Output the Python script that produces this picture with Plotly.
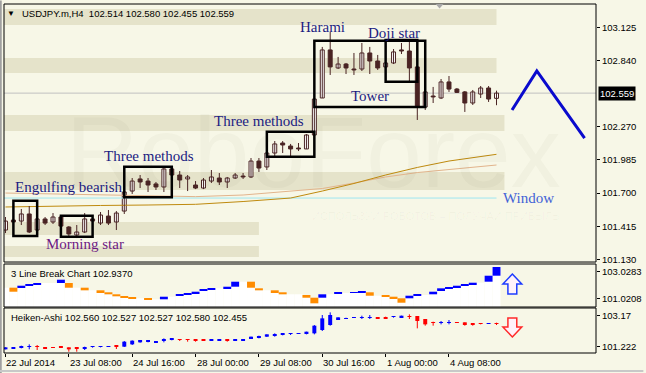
import plotly.graph_objects as go

# ---------------- data ----------------
dates_tick_idx = [0, 8, 16, 24, 32, 40, 48, 56]
dates_tick_txt = ["22 Jul 2014", "23 Jul 08:00", "24 Jul 16:00", "28 Jul 00:00",
                  "29 Jul 08:00", "30 Jul 16:00", "1 Aug 00:00", "4 Aug 08:00"]

c_open = [101.382, 101.468, 101.459, 101.520, 101.382, 101.477, 101.451, 101.494, 101.408, 101.339,
          101.365, 101.477, 101.442, 101.502, 101.451, 101.545, 101.717, 101.821, 101.803, 101.778,
          101.752, 101.907, 101.855, 101.821, 101.769, 101.743, 101.803, 101.829, 101.795, 101.829,
          101.846, 101.838, 101.975, 101.924, 102.044, 102.130, 102.104, 102.087, 102.079, 102.199,
          102.517, 102.930, 102.775, 102.809, 102.766, 102.766, 102.904, 102.835, 102.784, 102.818,
          102.930, 102.921, 102.784, 102.440, 102.534, 102.517, 102.655, 102.594, 102.569, 102.474,
          102.551, 102.603, 102.514]
c_high = [101.494, 101.485, 101.563, 101.588, 101.494, 101.494, 101.528, 101.502, 101.416, 101.425,
          101.528, 101.511, 101.537, 101.554, 101.545, 101.726, 101.829, 101.855, 101.829, 101.795,
          101.924, 101.915, 101.889, 101.855, 101.803, 101.829, 101.898, 101.872, 101.838, 101.872,
          101.872, 102.001, 102.001, 102.053, 102.147, 102.147, 102.122, 102.130, 102.207, 102.517,
          102.956, 103.085, 102.870, 102.818, 102.904, 102.990, 102.956, 102.887, 102.827, 102.938,
          102.990, 102.999, 102.792, 102.586, 102.612, 102.680, 102.706, 102.603, 102.577, 102.586,
          102.620, 102.620, 102.580]
c_low = [101.356, 101.434, 101.425, 101.356, 101.365, 101.425, 101.434, 101.408, 101.322, 101.313,
         101.356, 101.442, 101.425, 101.425, 101.382, 101.520, 101.692, 101.743, 101.709, 101.726,
         101.709, 101.846, 101.743, 101.717, 101.734, 101.734, 101.786, 101.769, 101.743, 101.821,
         101.821, 101.829, 101.881, 101.898, 102.010, 102.044, 102.018, 102.061, 102.079, 102.190,
         102.517, 102.715, 102.766, 102.723, 102.715, 102.749, 102.723, 102.758, 102.775, 102.809,
         102.895, 102.646, 102.328, 102.414, 102.474, 102.508, 102.569, 102.560, 102.397, 102.457,
         102.517, 102.483, 102.455]
c_close = [101.459, 101.451, 101.520, 101.365, 101.477, 101.442, 101.494, 101.416, 101.348, 101.365,
           101.477, 101.459, 101.511, 101.442, 101.528, 101.709, 101.803, 101.795, 101.769, 101.752,
           101.907, 101.855, 101.812, 101.838, 101.743, 101.812, 101.838, 101.795, 101.829, 101.855,
           101.838, 101.975, 101.915, 102.044, 102.122, 102.113, 102.079, 102.079, 102.199, 102.508,
           102.930, 102.784, 102.809, 102.775, 102.758, 102.904, 102.835, 102.775, 102.818, 102.913,
           102.921, 102.775, 102.440, 102.569, 102.526, 102.655, 102.594, 102.565, 102.474, 102.569,
           102.603, 102.508, 102.559]

ma_idx = [0, 6, 12, 18, 24, 30, 36, 40, 44, 48, 52, 56, 62]
ma_slow = [101.580, 101.588, 101.593, 101.597, 101.603, 101.627, 101.657, 101.717, 101.782,
           101.855, 101.920, 101.975, 102.033]
ma_fast = [101.700, 101.692, 101.683, 101.675, 101.669, 101.683, 101.717, 101.739, 101.786,
           101.838, 101.876, 101.902, 101.941]

window_level = 101.657
window_end_idx = 62
last_price = 102.559

forecast_idx = [63.96, 67.09, 73.12]
forecast_px = [102.414, 102.749, 102.171]

# support / resistance zones: (low, high, last index)
zone_low = [103.145, 102.732, 102.233, 101.726, 101.339, 101.150]
zone_high = [103.282, 102.861, 102.371, 101.881, 101.451, 101.245]
zone_end = [62, 62, 63, 63, 32, 32]

# pattern boxes
pat_names = ["Engulfing bearish", "Morning star", "Three methods", "Three methods", "Tower", "Doji star"]
pat_i0 = [1, 7, 15, 33, 39, 48]
pat_i1 = [4, 11, 21, 39, 53, 52]
pat_low = [101.330, 101.324, 101.663, 102.012, 102.440, 102.657]
pat_high = [101.634, 101.505, 101.926, 102.227, 103.010, 103.016]

lbl_text = ["Harami", "Doji star", "Tower", "Three methods", "Three methods",
            "Engulfing bearish", "Morning star", "Window"]
lbl_idx = [40, 49, 46, 32, 18.1, 8.06, 10.04, 66]
lbl_px = [103.128, 103.072, 102.534, 102.323, 102.018, 101.756, 101.259, 101.660]
lbl_col = ["#1C1C82", "#1C1C82", "#1C1C82", "#1C1C82", "#1C1C82", "#1C1C82", "#6E1A84", "#4262D6"]

# 3 Line Break
N = None
lb_open = [N, 101.821, 101.821, 101.971, 102.077, N, N, 102.175, 102.175, N,
           101.821, N, 101.624, 101.474, 101.323, 101.172, 101.066, N, 101.021, N,
           100.945, N, 101.217, 101.323, 101.398, 101.572, 101.670, N, 101.775, 101.896,
           N, 102.274, 101.775, N, 101.624, 101.474, N, N, 101.270, 101.066,
           101.066, N, 101.345, N, 101.421, 101.474, 101.474, N, 101.217, 101.141,
           101.021, 101.021, 101.217, N, 101.323, 101.572, 101.775, 101.851, 101.971, 102.077,
           N, 102.274, 102.726]
lb_close = [N, 101.519, 101.971, 102.077, 102.175, N, N, 102.424, 101.821, N,
            101.624, N, 101.474, 101.323, 101.172, 101.066, 101.021, N, 100.945, N,
            101.141, N, 101.323, 101.398, 101.519, 101.670, 101.775, N, 101.896, 102.274,
            N, 101.821, 101.624, N, 101.474, 101.323, N, N, 101.066, 100.643,
            101.323, N, 101.421, N, 101.474, 101.572, 101.217, N, 101.141, 101.021,
            100.689, 101.217, 101.270, N, 101.519, 101.775, 101.851, 101.971, 102.077, 102.198,
            N, 102.726, 103.383]

# Heiken-Ashi
ha_open = [101.056, 101.098, 101.140, 101.203, 101.244, 101.140, 101.182, 101.203, 101.182, 101.140,
           101.098, 101.203, 101.203, 101.224, 101.286, 101.224, 101.370, 101.496, 101.559, 101.496,
           101.622, 101.643, 101.684, 101.663, 101.663, 101.663, 101.622, 101.622, 101.663, 101.622,
           101.622, 101.747, 101.810, 101.852, 101.936, 101.957, 102.020, 102.041, 102.020, 102.062,
           102.271, 102.585, 102.900, 102.983, 103.046, 103.046, 103.067, 103.067, 103.067, 103.088,
           103.067, 103.130, 103.151, 102.962, 102.753, 102.711, 102.732, 102.753, 102.753, 102.669,
           102.669, 102.669, 102.690]
ha_close = [101.182, 101.182, 101.265, 101.224, 101.203, 101.119, 101.161, 101.161, 101.056, 101.098,
            101.140, 101.224, 101.244, 101.244, 101.244, 101.538, 101.601, 101.643, 101.601, 101.517,
            101.663, 101.747, 101.643, 101.643, 101.622, 101.622, 101.663, 101.643, 101.622, 101.643,
            101.643, 101.852, 101.852, 101.999, 101.957, 102.062, 102.041, 102.062, 102.166, 102.543,
            103.004, 103.214, 103.067, 103.004, 103.067, 103.067, 103.088, 103.025, 103.025, 103.109,
            103.172, 103.088, 102.837, 102.627, 102.711, 102.753, 102.753, 102.711, 102.585, 102.627,
            102.648, 102.690, 102.648]
ha_high = [101.182, 101.203, 101.286, 101.370, 101.328, 101.140, 101.182, 101.203, 101.182, 101.182,
           101.224, 101.265, 101.265, 101.265, 101.328, 101.580, 101.622, 101.643, 101.643, 101.538,
           101.747, 101.768, 101.705, 101.705, 101.705, 101.684, 101.663, 101.663, 101.705, 101.663,
           101.663, 101.852, 101.915, 101.999, 102.062, 102.062, 102.062, 102.083, 102.166, 102.585,
           103.214, 103.381, 103.067, 103.046, 103.067, 103.172, 103.214, 103.067, 103.109, 103.151,
           103.172, 103.256, 103.151, 102.962, 102.795, 102.837, 102.900, 102.753, 102.753, 102.690,
           102.669, 102.690, 102.732]
ha_low = [101.056, 101.077, 101.119, 101.056, 101.014, 101.098, 101.140, 101.140, 100.909, 100.909,
          101.014, 101.161, 101.182, 101.203, 101.077, 101.203, 101.328, 101.475, 101.496, 101.475,
          101.496, 101.622, 101.580, 101.538, 101.538, 101.601, 101.601, 101.601, 101.538, 101.622,
          101.601, 101.747, 101.747, 101.831, 101.852, 101.936, 101.957, 102.020, 101.999, 101.999,
          102.208, 102.543, 102.900, 102.962, 103.046, 102.962, 102.962, 103.025, 102.962, 103.046,
          103.067, 102.962, 102.376, 102.543, 102.543, 102.627, 102.627, 102.711, 102.543, 102.543,
          102.627, 102.669, 102.585]

main_ticks = [103.125, 102.840, 102.270, 101.985, 101.700, 101.415, 101.130]
lb_ticks = [103.0283, 101.0208]
ha_ticks = [103.17, 101.222]

# ---------------- style ----------------
BG = "#F7F7E7"
BAND = "#E5E3CA"
DARK = "#4A2424"
FONT = "Liberation Sans"
SERIF = "Liberation Serif"
XR = [-0.1875, 74.5625]
MAIN_R = [101.107, 103.325]
LB_R = [100.364, 103.609]
HA_R = [100.826, 103.654]

fig = go.Figure()


def add_candles(o, h, l, c, yax, w, up_fill, up_line, dn_fill, dn_line, wick_up, wick_dn, outline):
    for bull in (True, False):
        ids = [i for i in range(len(o)) if (c[i] >= o[i]) == bull]
        wx, wy = [], []
        for i in ids:
            wx += [i, i, None]
            wy += [l[i], h[i], None]
        fig.add_trace(go.Scatter(x=wx, y=wy, mode="lines", yaxis=yax,
                                 line=dict(color=wick_up if bull else wick_dn, width=1),
                                 hoverinfo="skip", showlegend=False))
    for bull in (True, False):
        ids = [i for i in range(len(o)) if (c[i] >= o[i]) == bull]
        fig.add_trace(go.Bar(x=ids, y=[abs(c[i] - o[i]) for i in ids],
                             base=[min(o[i], c[i]) for i in ids], width=w, yaxis=yax,
                             marker=dict(color=up_fill if bull else dn_fill,
                                         line=dict(color=up_line if bull else dn_line, width=outline)),
                             hoverinfo="skip", showlegend=False))


# moving averages and window line (main panel)
fig.add_trace(go.Scatter(x=[XR[0], window_end_idx], y=[window_level, window_level], mode="lines",
                         line=dict(color="#9EE6F0", width=1), yaxis="y", hoverinfo="skip", showlegend=False))
fig.add_trace(go.Scatter(x=ma_idx, y=ma_fast, mode="lines", line=dict(color="#E2B48C", width=1),
                         yaxis="y", hoverinfo="skip", showlegend=False))
fig.add_trace(go.Scatter(x=ma_idx, y=ma_slow, mode="lines", line=dict(color="#BF8A0E", width=1),
                         yaxis="y", hoverinfo="skip", showlegend=False))

add_candles(c_open, c_high, c_low, c_close, "y", 0.5, "#FFFFFF", DARK, DARK, DARK, DARK, DARK, 1)

fig.add_trace(go.Scatter(x=forecast_idx, y=forecast_px, mode="lines",
                         line=dict(color="#0A0ACD", width=3), yaxis="y", hoverinfo="skip", showlegend=False))

# 3 Line Break panel
levels = []
cur = next(v for v in lb_open if v is not None)
for i in range(len(lb_close)):
    if lb_close[i] is not None:
        cur = lb_close[i]
    levels.append(cur)
fig.add_trace(go.Bar(x=list(range(len(levels))), y=[v - LB_R[0] for v in levels], base=LB_R[0],
                     width=1.0, yaxis="y2", marker=dict(color="#FFFFFF", line=dict(width=0)),
                     hoverinfo="skip", showlegend=False))
for up in (True, False):
    ids = [i for i in range(len(lb_open)) if lb_open[i] is not None and (lb_close[i] > lb_open[i]) == up]
    fig.add_trace(go.Bar(x=ids, y=[abs(lb_close[i] - lb_open[i]) for i in ids],
                         base=[min(lb_open[i], lb_close[i]) for i in ids], width=1.0, yaxis="y2",
                         marker=dict(color="#0000FF" if up else "#FF8C00", line=dict(width=0)),
                         hoverinfo="skip", showlegend=False))

# Heiken-Ashi panel
add_candles(ha_open, ha_high, ha_low, ha_close, "y3", 0.5, "#0000FF", "#0000FF", "#FF0000", "#FF0000",
            "#0000FF", "#FF0000", 0)

# ---------------- shapes ----------------
shapes = []
for lo, hi, e in zip(zone_low, zone_high, zone_end):
    shapes.append(dict(type="rect", xref="x", yref="y", x0=XR[0], x1=e, y0=lo, y1=hi,
                       fillcolor=BAND, line=dict(width=0), layer="below"))
shapes.append(dict(type="line", xref="paper", yref="y", x0=0, x1=1, y0=last_price, y1=last_price,
                   line=dict(color="#C0C0C0", width=1), layer="below"))
for a, b, lo, hi in zip(pat_i0, pat_i1, pat_low, pat_high):
    shapes.append(dict(type="rect", xref="x", yref="y", x0=a, x1=b, y0=lo, y1=hi,
                       line=dict(color="#000000", width=2.5), fillcolor="rgba(0,0,0,0)"))
# panel borders
for y0, y1 in [(0.2607, 1.0), (0.1318, 0.2550), (0.0, 0.1289)]:
    shapes.append(dict(type="rect", xref="paper", yref="paper", x0=0, x1=1, y0=y0, y1=y1,
                       line=dict(color="#000000", width=1), fillcolor="rgba(0,0,0,0)"))
# arrows
shapes.append(dict(type="path", xref="x", yref="y2",
                   path="M 64.0 102.855 L 65.19 102.100 L 64.56 102.100 L 64.56 101.345 "
                        "L 63.44 101.345 L 63.44 102.100 L 62.81 102.100 Z",
                   fillcolor="#FFF2FA", line=dict(color="#1E3CFF", width=1.5)))
shapes.append(dict(type="path", xref="x", yref="y3",
                   path="M 64.0 101.831 L 65.19 102.460 L 64.56 102.460 L 64.56 103.025 "
                        "L 63.44 103.025 L 63.44 102.460 L 62.81 102.460 Z",
                   fillcolor="#FFF2FA", line=dict(color="#FF2A2A", width=1.5)))
# chart shift marker
shapes.append(dict(type="path", xref="x", yref="paper",
                   path="M 54.31 1.0 L 55.31 1.0 L 54.81 0.987 Z",
                   fillcolor="#A8A8A8", line=dict(width=0)))
# window frame
shapes.append(dict(type="line", xref="paper", yref="paper", x0=-0.0055, x1=-0.0055, y0=-0.06, y1=1.01,
                   line=dict(color="#A0A0A0", width=2)))
shapes.append(dict(type="line", xref="paper", yref="paper", x0=-0.01, x1=1.08, y0=-0.0515, y1=-0.0515,
                   line=dict(color="#C8C8C8", width=2)))

# ---------------- annotations ----------------
ann = []
ann.append(dict(text="RoboForex", xref="paper", yref="paper", x=0.522, y=0.575, showarrow=False,
                font=dict(family="Liberation Sans Narrow, Liberation Sans", size=100,
                          color="rgba(60,60,20,0.03)"),
                xanchor="center", yanchor="middle"))
ann.append(dict(text="ИСПОЛЬЗУЙ РОБОТОВ – ПОЛУЧАЙ ПРИБЫЛЬ", xref="paper", yref="paper", x=0.729,
                y=0.393, showarrow=False, xanchor="center", yanchor="middle",
                font=dict(family=FONT, size=11, color="rgba(60,60,20,0.035)")))
for t, xi, yp, col in zip(lbl_text, lbl_idx, lbl_px, lbl_col):
    ann.append(dict(text=t, x=xi, y=yp, xref="x", yref="y", showarrow=False, xanchor="center",
                    yanchor="middle", font=dict(family=SERIF, size=15, color=col)))
ann.append(dict(text="▼", xref="paper", yref="paper", x=0.0125, y=0.974, showarrow=False,
                xanchor="center", yanchor="middle", font=dict(family=FONT, size=8, color="#000000")))
ann.append(dict(text="USDJPY.m,H4  102.514 102.580 102.455 102.559", xref="paper", yref="paper",
                x=0.0268, y=0.974, showarrow=False, xanchor="left", yanchor="middle",
                font=dict(family=FONT, size=9.5, color="#000000")))
ann.append(dict(text="3 Line Break Chart 102.9370", xref="paper", yref="paper", x=0.0084, y=0.2284,
                showarrow=False, xanchor="left", yanchor="middle",
                font=dict(family=FONT, size=9.5, color="#000000")))
ann.append(dict(text="Heiken-Ashi 102.560 102.527 102.527 102.580 102.455", xref="paper", yref="paper",
                x=0.0084, y=0.1011, showarrow=False, xanchor="left", yanchor="middle",
                font=dict(family=FONT, size=9.5, color="#000000")))
ann.append(dict(text="%.3f" % last_price, xref="paper", yref="y", x=1.0, y=last_price, xanchor="left",
                xshift=2, yanchor="middle", showarrow=False, bgcolor="#000000", borderpad=1,
                font=dict(family=FONT, size=9.5, color="#FFFFFF")))
for xi, t in zip(dates_tick_idx, dates_tick_txt):
    ann.append(dict(text=t, x=xi, xref="x", y=-0.0272, yref="paper", xanchor="left", yanchor="middle",
                    showarrow=False, xshift=-1, font=dict(family=FONT, size=9.5, color="#000000")))

axis_common = dict(showgrid=False, zeroline=False, ticks="outside", ticklen=3, tickcolor="#000000",
                   tickfont=dict(family=FONT, size=9.5, color="#000000"), side="right", anchor="x",
                   showline=False, fixedrange=True)

fig.update_layout(
    width=646, height=373,
    margin=dict(l=4, r=44, t=4, b=20, pad=0),
    paper_bgcolor=BG, plot_bgcolor=BG,
    barmode="overlay", showlegend=False,
    xaxis=dict(domain=[0, 1], range=XR, anchor="y3", showgrid=False, zeroline=False,
               tickvals=dates_tick_idx, showticklabels=False, ticks="outside", ticklen=3,
               tickcolor="#000000", showline=False, fixedrange=True),
    yaxis=dict(domain=[0.2607, 1.0], range=MAIN_R, tickvals=main_ticks,
               ticktext=["%.3f" % v for v in main_ticks], **axis_common),
    yaxis2=dict(domain=[0.1318, 0.2550], range=LB_R, tickvals=lb_ticks,
                ticktext=["%.4f" % v for v in lb_ticks], **axis_common),
    yaxis3=dict(domain=[0.0, 0.1289], range=HA_R, tickvals=ha_ticks,
                ticktext=["103.17", "101.222"], **axis_common),
    shapes=shapes, annotations=ann,
)

fig.write_html("out.html", config={"displayModeBar": False})
